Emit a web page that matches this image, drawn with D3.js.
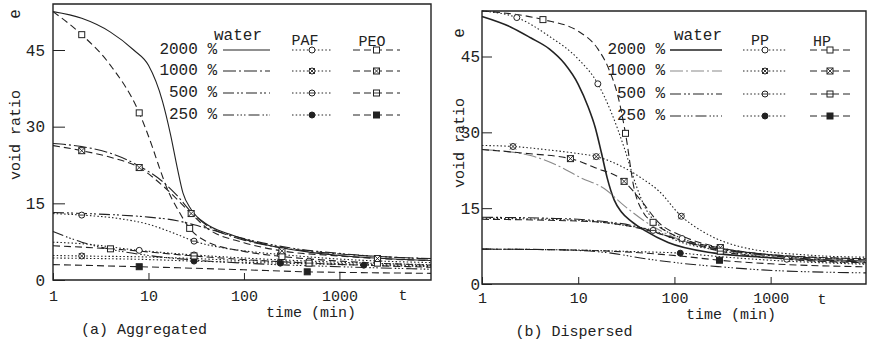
<!DOCTYPE html>
<html>
<head>
<meta charset="utf-8">
<script src="https://cdn.jsdelivr.net/npm/d3@7"></script>
<style>
  body { margin: 0; background: #fff; }
  svg text { font-family: "Liberation Mono", "DejaVu Sans Mono", monospace; fill: #222; }
</style>
</head>
<body>
<svg id="chart" width="870" height="343"></svg>
<script>
// [time (min), void ratio e, 1 = marker drawn here]
// (a) aggregated
const aggWater2000 = [[1,52.5],[2,51.2],[4,48.5],[7,45],[10,42],[14,35],[17,28.5],[20,22],[23,17],[28,13.8],[40,11],[70,9],[100,8],[200,6.6],[500,5.4],[1000,4.8],[3000,4.2],[9100,3.8]];
const aggWater1000 = [[1,26.7],[2,26.1],[4,24.8],[8,22.3],[15,18.8],[20,16.5],[28,13.3],[40,10.8],[70,8.7],[100,7.8],[300,6.1],[1000,5.1],[9100,4.2]];
const aggWater500  = [[1,13.2],[3,12.9],[10,12.3],[20,11.6],[30,10.8],[60,9.2],[100,8.1],[300,6.3],[1000,5.2],[9100,4.1]];
const aggWater250  = [[1,9.5],[2,7.4],[4,6],[10,4.8],[30,3.9],[100,3.3],[1000,2.6],[9100,2.1]];
const aggPaf2000 = [[1,7.4],[2,7.1],[8,5.8,1],[30,4.9,1],[100,4.3],[480,3.7,1],[2000,3.3],[9100,3]];
const aggPaf1000 = [[1,4.8],[2,4.7,1],[10,4.5],[30,4.2,1],[100,3.8],[240,3.6,1],[1000,3.2],[9100,2.8]];
const aggPaf500  = [[1,13],[2,12.7,1],[5,12],[10,10.9],[20,8.9],[30,7.6,1],[60,6.3],[100,5.7],[240,5,1],[1000,4.1],[9100,3.4]];
const aggPaf250  = [[1,4.3],[10,4],[30,3.7,1],[240,3.3,1],[1800,2.9,1],[9100,2.6]];
const aggPeo2000 = [[1,52.5],[2,48,1],[4,42],[8,32.7,1],[11,26],[13,22],[16,17.5],[20,14],[27,10.1,1],[40,7.6],[100,5.6],[250,4.6,1],[1000,3.7],[2500,3.3,1],[9100,2.9]];
const aggPeo1000 = [[1,26.3],[2,25.3,1],[4,24],[8,22,1],[15,18],[28,13,1],[40,10.3],[100,7.3],[250,5.7,1],[1000,4.7],[2500,4.2,1],[9100,3.8]];
const aggPeo500  = [[1,6.7],[4,6.1,1],[30,4.7,1],[100,4],[480,3.3,1],[9100,2.5]];
const aggPeo250  = [[1,3],[8,2.6,1],[30,2.3],[100,2],[460,1.6,1],[1000,1.5],[9100,1.3]];

// (b) dispersed
const dispWater2000 = [[1,52.9],[2,50.8],[3.2,48.7],[5,46.5],[7.2,43.6],[10,39.5],[12.7,35],[15,31],[17.4,26],[20,21],[23.7,16.6],[28,14.3],[35.7,12.4],[50,10.5],[86,8.2],[261,6.1],[800,5.3],[3000,4.8],[9800,4.5]];
const dispWater1000 = [[1,26.6],[3.2,25.4],[6,23.5],[10.7,21],[18.6,18.9],[30,15.5],[53,12],[100,9.2],[300,6.8],[1000,5.5],[9800,4.4]];
const dispWater500  = [[1,13.2],[5,13],[10,12.8],[20,12.3],[40,11.4],[70,10],[150,8],[400,6.5],[1000,5.6],[9800,4.3]];
const dispWater250  = [[1,6.9],[5,6.8],[20,6.2],[50,5],[118,4.1],[300,3.4],[800,2.8],[9800,2.2]];
const dispPp2000 = [[1,54],[2.3,52.7,1],[5,49],[10,44.5],[16,39.6,1],[22,34],[30,27],[40,19.5],[50,15],[70,11.5],[120,9,1],[300,7],[1000,5.8],[9800,5]];
const dispPp1000 = [[1,27.4],[2.1,27.2,1],[5,26.5],[10,25.8],[15.4,25.2,1],[30,23],[45,21],[68,18.5],[118,13.4,1],[200,10.3],[500,7.3],[2500,5.7],[9800,5.3]];
const dispPp500  = [[1,13],[10,12.6],[30,11.6],[60,10.6,1],[120,8.2],[300,6.6],[1470,4.9,1],[9800,4.1]];
const dispPp250  = [[1,6.9],[10,6.7],[40,6.4],[115,6.1,1],[300,5.4],[1000,4.7],[9800,3.9]];
const dispHp2000 = [[1,54],[4.3,52.3,1],[10,50],[16,46.5],[20.5,42.8],[26,37],[31,29.8,1],[38,19],[48,14],[60,12.2,1],[100,9.6],[300,7.1,1],[1000,5.8],[9800,5]];
const dispHp1000 = [[1,26.6],[3,25.8],[8.3,24.8,1],[15,23],[30,20.3,1],[45,16.5],[70,12],[120,9.5],[300,7.2,1],[1000,5.8],[9800,4.8]];
const dispHp500  = [[1,12.8],[5,12.6],[15,12.3],[35,11.4],[80,9.6],[150,8],[300,6.5,1],[1000,5.2],[9800,4.2]];
const dispHp250  = [[1,6.9],[10,6.7],[50,6.1],[120,5.5],[294,4.7,1],[1000,4],[9800,3.4]];

const concLabels = ["2000 %", "1000 %", "500 %", "250 %"];
const yTicks = [0, 15, 30, 45];
const xTicks = [1, 10, 100, 1000];

const waterDash = [null, "13,3,2,3", "11,3,2,2,2,3", "11,3,1.5,2,1.5,2,1.5,3"];
const markKinds = ["open", "cross", "bar", "filled"];
const ink = "#222";

const svg = d3.select("#chart");

function marker(g, shape, kind, cx, cy) {
  const r = 3;
  const fill = kind === "filled" ? ink : "#fff";
  if (shape === "circle") {
    g.append("circle").attr("cx", cx).attr("cy", cy).attr("r", r)
      .attr("fill", fill).attr("stroke", ink).attr("stroke-width", 1);
  } else {
    g.append("rect").attr("x", cx - r).attr("y", cy - r).attr("width", 2 * r).attr("height", 2 * r)
      .attr("fill", fill).attr("stroke", ink).attr("stroke-width", 1);
  }
  if (kind === "cross") {
    g.append("path").attr("d", `M${cx - r},${cy - r}L${cx + r},${cy + r}M${cx - r},${cy + r}L${cx + r},${cy - r}`)
      .attr("stroke", ink).attr("stroke-width", 0.9);
  }
  if (kind === "bar") {
    g.append("path").attr("d", `M${cx - r},${cy}H${cx + r}`)
      .attr("stroke", ink).attr("stroke-width", 0.9);
  }
}

function styleFor(p, type, i) {
  if (type === "water") {
    const s = { dash: waterDash[i], width: 1.1, color: ink };
    if (p.heavy && i === 0) s.width = 1.6;
    if (p.heavy && i === 1) s.color = "#8a8a8a";
    return s;
  }
  if (type === "dot") return { dash: "1.5,2.2", width: 1.1, color: ink };
  return { dash: "7,4", width: 1.1, color: ink };
}

function drawPanel(p) {
  const x = d3.scaleLog().domain([1, p.tMax]).range([p.left, p.right]);
  const y = d3.scaleLinear().domain([0, 54]).range([p.bottom, p.top]);
  const g = svg.append("g");

  g.append("path")
    .attr("d", `M${p.left},${p.bottom}V${p.top}H${p.right}V${p.bottom}Z`)
    .attr("fill", "none").attr("stroke", ink).attr("stroke-width", 1.4);

  const yAxis = g.append("g")
    .attr("transform", `translate(${p.left},0)`)
    .call(d3.axisLeft(y).tickValues(yTicks).tickSize(-p.yTick).tickPadding(p.yPad).tickSizeOuter(0));
  yAxis.select(".domain").remove();
  yAxis.selectAll("line").attr("stroke", ink);
  yAxis.selectAll("text").attr("font-size", 16).style("font-family", "Liberation Mono");

  const xAxis = g.append("g")
    .attr("transform", `translate(0,${p.bottom})`)
    .call(d3.axisBottom(x).tickValues(xTicks).tickFormat(d3.format("d")).tickSize(-7).tickPadding(p.xPad).tickSizeOuter(0));
  xAxis.select(".domain").remove();
  xAxis.selectAll("line").attr("stroke", ink);
  xAxis.selectAll("text").attr("font-size", 15).style("font-family", "Liberation Mono");

  g.append("text").attr("x", p.tX).attr("y", p.bottom + 20).attr("text-anchor", "middle")
    .attr("font-size", 15).text("t");
  g.append("text").attr("x", p.timeX).attr("y", p.timeY).attr("text-anchor", "middle")
    .attr("font-size", 15).text("time (min)");
  g.append("text").attr("x", p.capX).attr("y", p.capY).attr("text-anchor", "middle")
    .attr("font-size", 15).text(p.caption);
  g.append("text").attr("transform", `translate(${p.yLabX},${p.yLabY}) rotate(-90)`)
    .attr("text-anchor", "middle").attr("dominant-baseline", "middle").attr("font-size", 15).text("void ratio");
  g.append("text").attr("transform", `translate(${p.yLabX},${p.eY}) rotate(-90)`)
    .attr("text-anchor", "middle").attr("dominant-baseline", "middle").attr("font-size", 16).text("e");

  const line = d3.line().x(d => x(d[0])).y(d => y(d[1])).curve(d3.curveMonotoneX);

  p.series.forEach(s => {
    const st = styleFor(p, s.type, s.i);
    g.append("path").datum(s.data)
      .attr("d", line)
      .attr("fill", "none")
      .attr("stroke", st.color)
      .attr("stroke-width", st.width)
      .attr("stroke-dasharray", st.dash);
  });
  p.series.filter(s => s.type !== "water").forEach(s => {
    s.data.filter(d => d[2]).forEach(d => {
      marker(g, s.type === "dot" ? "circle" : "square", markKinds[s.i], x(d[0]), y(d[1]));
    });
  });

  // legend
  const L = p.legend;
  g.append("text").attr("x", L.waterX).attr("y", 40).attr("text-anchor", "middle").attr("font-size", 16).text("water");
  g.append("text").attr("x", L.dotX).attr("y", 45).attr("text-anchor", "middle").attr("font-size", 15).text(L.dotName);
  g.append("text").attr("x", L.dashX).attr("y", 46).attr("text-anchor", "middle").attr("font-size", 15).text(L.dashName);
  L.rows.forEach((ry, i) => {
    g.append("text").attr("x", L.labelX).attr("y", ry).attr("text-anchor", "end")
      .attr("dominant-baseline", "middle").attr("font-size", 16).text(concLabels[i]);
    const ws = styleFor(p, "water", i);
    g.append("path").attr("d", `M${L.water[0]},${ry}H${L.water[1]}`)
      .attr("stroke", ws.color).attr("stroke-width", ws.width).attr("stroke-dasharray", ws.dash);
    g.append("path").attr("d", `M${L.dot[0]},${ry}H${L.dot[1]}`)
      .attr("stroke", ink).attr("stroke-width", 1).attr("stroke-dasharray", "1.5,2.2");
    marker(g, "circle", markKinds[i], (L.dot[0] + L.dot[1]) / 2, ry);
    g.append("path").attr("d", `M${L.dash[0]},${ry}H${L.dash[1]}`)
      .attr("stroke", ink).attr("stroke-width", 1).attr("stroke-dasharray", "7,4");
    marker(g, "square", markKinds[i], (L.dash[0] + L.dash[1]) / 2, ry);
  });
}

drawPanel({
  left: 53, right: 431, top: 4, bottom: 280, tMax: 9100, heavy: false,
  yTick: 12, yPad: 8, xPad: 10, tX: 403, capX: 144, capY: 334,
  timeX: 311, timeY: 317,
  yLabX: 16, yLabY: 135, eY: 14,
  caption: "(a) Aggregated",
  series: [
    { type: "water", i: 0, data: aggWater2000 }, { type: "water", i: 1, data: aggWater1000 },
    { type: "water", i: 2, data: aggWater500 },  { type: "water", i: 3, data: aggWater250 },
    { type: "dot", i: 0, data: aggPaf2000 }, { type: "dot", i: 1, data: aggPaf1000 },
    { type: "dot", i: 2, data: aggPaf500 },  { type: "dot", i: 3, data: aggPaf250 },
    { type: "dash", i: 0, data: aggPeo2000 }, { type: "dash", i: 1, data: aggPeo1000 },
    { type: "dash", i: 2, data: aggPeo500 },  { type: "dash", i: 3, data: aggPeo250 }
  ],
  legend: {
    waterX: 238, dotX: 305, dashX: 372, dotName: "PAF", dashName: "PEO",
    labelX: 217, rows: [50, 71, 93, 115],
    water: [223, 270], dot: [292, 332], dash: [353, 400]
  }
});

drawPanel({
  left: 482, right: 866, top: 11, bottom: 284, tMax: 9800, heavy: true,
  yTick: 10, yPad: 2, xPad: 8, tX: 822, capX: 574, capY: 336,
  timeX: 731, timeY: 319,
  yLabX: 460, yLabY: 143, eY: 33,
  caption: "(b) Dispersed",
  series: [
    { type: "water", i: 0, data: dispWater2000 }, { type: "water", i: 1, data: dispWater1000 },
    { type: "water", i: 2, data: dispWater500 },  { type: "water", i: 3, data: dispWater250 },
    { type: "dot", i: 0, data: dispPp2000 }, { type: "dot", i: 1, data: dispPp1000 },
    { type: "dot", i: 2, data: dispPp500 },  { type: "dot", i: 3, data: dispPp250 },
    { type: "dash", i: 0, data: dispHp2000 }, { type: "dash", i: 1, data: dispHp1000 },
    { type: "dash", i: 2, data: dispHp500 },  { type: "dash", i: 3, data: dispHp250 }
  ],
  legend: {
    waterX: 698, dotX: 760, dashX: 822, dotName: "PP", dashName: "HP",
    labelX: 665, rows: [50, 71, 94, 116],
    water: [670, 722], dot: [743, 787], dash: [810, 850]
  }
});
</script>
</body>
</html>
